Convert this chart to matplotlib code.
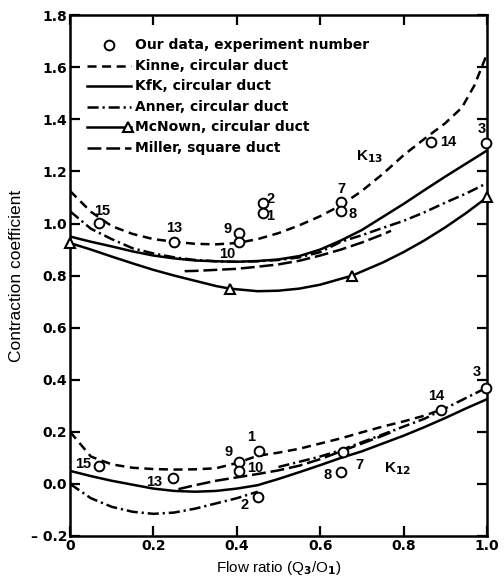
import matplotlib
matplotlib.use("Agg")
import matplotlib.pyplot as plt
import numpy as np

plt.rcParams["font.family"] = ["Liberation Sans", "DejaVu Sans"]
plt.rcParams["font.weight"] = "bold"
plt.rcParams["lines.scale_dashes"] = False

# ---- data ---------------------------------------------------------------
# K13 (upper family)
kinne13_x = [0, 0.05, 0.1, 0.15, 0.2, 0.25, 0.3, 0.35, 0.4, 0.45, 0.5, 0.55,
             0.6, 0.65, 0.7, 0.75, 0.8, 0.85, 0.9, 0.94, 0.97, 1.0]
kinne13_y = [1.125, 1.045, 0.99, 0.96, 0.94, 0.93, 0.922, 0.92, 0.925, 0.94,
             0.963, 0.993, 1.028, 1.07, 1.125, 1.19, 1.262, 1.325, 1.385,
             1.445, 1.53, 1.65]

kfk13_x = [0, 0.05, 0.1, 0.15, 0.2, 0.25, 0.3, 0.35, 0.4, 0.45, 0.5, 0.55,
           0.6, 0.65, 0.7, 0.75, 0.8, 0.85, 0.9, 0.95, 1.0]
kfk13_y = [0.95, 0.93, 0.912, 0.893, 0.877, 0.866, 0.858, 0.855, 0.853,
           0.856, 0.862, 0.875, 0.9, 0.935, 0.975, 1.025, 1.075, 1.128,
           1.18, 1.23, 1.28]

anner13_x = [0, 0.05, 0.1, 0.15, 0.2, 0.25, 0.3, 0.35, 0.4, 0.45, 0.5, 0.55,
             0.6, 0.65, 0.7, 0.75, 0.8, 0.85, 0.9, 0.95, 1.0]
anner13_y = [1.047, 0.98, 0.94, 0.905, 0.885, 0.87, 0.86, 0.855, 0.853,
             0.855, 0.86, 0.87, 0.89, 0.93, 0.955, 0.983, 1.01, 1.043,
             1.08, 1.115, 1.155]

miller13_x = [0.275, 0.3, 0.35, 0.4, 0.45, 0.5, 0.55, 0.6, 0.65, 0.7, 0.75, 0.77]
miller13_y = [0.817, 0.818, 0.822, 0.826, 0.834, 0.843, 0.857, 0.877, 0.9,
              0.927, 0.958, 0.972]

mcnown13_x = [0, 0.05, 0.1, 0.15, 0.2, 0.25, 0.3, 0.35, 0.383, 0.45, 0.5,
              0.55, 0.6, 0.677, 0.75, 0.8, 0.85, 0.9, 0.95, 1.0]
mcnown13_y = [0.925, 0.9, 0.873, 0.847, 0.822, 0.8, 0.78, 0.76, 0.75, 0.74,
              0.742, 0.75, 0.765, 0.8, 0.85, 0.89, 0.935, 0.985, 1.04, 1.10]
mcnown13_pts_x = [0, 0.383, 0.677, 1.0]
mcnown13_pts_y = [0.925, 0.75, 0.80, 1.10]

# K12 (lower family)
kinne12_x = [0, 0.05, 0.1, 0.15, 0.2, 0.25, 0.3, 0.35, 0.4, 0.45, 0.5, 0.55,
             0.6, 0.65, 0.7, 0.75, 0.8, 0.85, 0.89]
kinne12_y = [0.2, 0.105, 0.075, 0.062, 0.057, 0.055, 0.056, 0.06, 0.08,
             0.108, 0.12, 0.135, 0.155, 0.175, 0.198, 0.22, 0.24, 0.262, 0.285]

kfk12_x = [0, 0.05, 0.1, 0.15, 0.2, 0.25, 0.3, 0.35, 0.4, 0.45, 0.5, 0.55,
           0.6, 0.65, 0.7, 0.75, 0.8, 0.85, 0.9, 0.95, 1.0]
kfk12_y = [0.05, 0.03, 0.012, -0.003, -0.018, -0.027, -0.03, -0.027, -0.018,
           -0.005, 0.019, 0.045, 0.072, 0.1, 0.125, 0.155, 0.185, 0.218,
           0.253, 0.29, 0.325]

anner12_x = [0, 0.05, 0.1, 0.15, 0.2, 0.25, 0.3, 0.35, 0.4, 0.45, np.nan,
             0.5, 0.55, 0.6, 0.65, 0.7, 0.75, 0.8, 0.85, 0.9, 0.95, 1.0]
anner12_y = [0.0, -0.055, -0.088, -0.107, -0.115, -0.11, -0.095, -0.075,
             -0.055, -0.03, np.nan, 0.065, 0.085, 0.105, 0.13, 0.16, 0.19,
             0.22, 0.25, 0.29, 0.33, 0.37]

miller12_x = [0.26, 0.3, 0.35, 0.4, 0.45, 0.5, 0.55, 0.6, 0.65, 0.7, 0.75, 0.78]
miller12_y = [-0.02, -0.005, 0.012, 0.025, 0.038, 0.052, 0.07, 0.095, 0.125,
              0.155, 0.185, 0.205]

# our data, experiment numbers
exp13 = ["15", "13", "9", "10", "2", "1", "7", "8", "14", "3"]
ours13_x = [0.07, 0.25, 0.406, 0.406, 0.462, 0.462, 0.65, 0.65, 0.866, 0.998]
ours13_y = [1.003, 0.93, 0.964, 0.928, 1.079, 1.041, 1.082, 1.048, 1.312, 1.309]

exp12 = ["15", "13", "9", "10", "1", "2", "7", "8", "14", "3"]
ours12_x = [0.07, 0.246, 0.406, 0.406, 0.454, 0.45, 0.654, 0.65, 0.89, 0.998]
ours12_y = [0.07, 0.023, 0.085, 0.051, 0.128, -0.051, 0.121, 0.045, 0.285, 0.367]

# label offsets in pixels (layout only)
off13 = [(3, 12), (0, 14), (-12, 4), (-12, -12), (8, 4), (8, -3),
         (0, 13), (12, -3), (17, 0), (-4, 14)]
off12 = [(-16, 2), (-18, -4), (-11, 10), (16, 3), (-8, 14), (-13, -8),
         (17, -13), (-13, -3), (-5, 14), (-9, 16)]

yticks = [-0.2, 0.0, 0.2, 0.4, 0.6, 0.8, 1.0, 1.2, 1.4, 1.6, 1.8]
ytick_labels = ["\u2013 0.2", "0.0", "0.2", "0.4", "0.6", "0.8", "1.0",
                "1.2", "1.4", "1.6", "1.8"]
xticks = [0, 0.2, 0.4, 0.6, 0.8, 1.0]
xtick_labels = ["0", "0.2", "0.4", "0.6", "0.8", "1.0"]

legend_labels = ["Our data, experiment number", "Kinne, circular duct",
                 "KfK, circular duct", "Anner, circular duct",
                 "McNown, circular duct", "Miller, square duct"]

# ---- styles ---------------------------------------------------------------
LW = 1.8
DASH_KINNE = (0, (6.5, 4))
DASH_ANNER = (0, (8, 2.8, 1.6, 2.8))
DASH_MILLER = (0, (10, 3.5))
WIDE = ["DejaVu Sans"]

fig = plt.figure(figsize=(5.04, 5.78), dpi=100)
ax = fig.add_axes([0.139, 0.0727, 0.827, 0.901])

ax.plot(kinne13_x, kinne13_y, color="black", lw=LW, linestyle=DASH_KINNE)
ax.plot(kfk13_x, kfk13_y, color="black", lw=LW)
ax.plot(anner13_x, anner13_y, color="black", lw=LW, linestyle=DASH_ANNER)
ax.plot(miller13_x, miller13_y, color="black", lw=LW, linestyle=DASH_MILLER)
ax.plot(mcnown13_x, mcnown13_y, color="black", lw=LW)
ax.plot(mcnown13_pts_x, mcnown13_pts_y, linestyle="none", marker="^",
        ms=7.5, mfc="white", mec="black", mew=1.5, clip_on=False, zorder=4)

ax.plot(kinne12_x, kinne12_y, color="black", lw=LW, linestyle=DASH_KINNE)
ax.plot(kfk12_x, kfk12_y, color="black", lw=LW)
ax.plot(anner12_x, anner12_y, color="black", lw=LW, linestyle=DASH_ANNER)
ax.plot(miller12_x, miller12_y, color="black", lw=LW, linestyle=DASH_MILLER)

for xs, ys, labs, offs in [(ours13_x, ours13_y, exp13, off13),
                           (ours12_x, ours12_y, exp12, off12)]:
    ax.plot(xs, ys, linestyle="none", marker="o", ms=7, mfc="white",
            mec="black", mew=1.4, clip_on=False, zorder=5)
    for x, y, lab, (dx, dy) in zip(xs, ys, labs, offs):
        ax.annotate(lab, (x, y), xytext=(dx, dy), textcoords="offset pixels",
                    ha="center", va="center", fontsize=10.5)

ax.text(0.718, 1.257, "K$_{\\mathbf{13}}$", fontsize=11, ha="center", va="center")
ax.text(0.786, 0.057, "K$_{\\mathbf{12}}$", fontsize=11, ha="center", va="center")

# hand-drawn legend block (top left)
row0, step = 0.9424, 0.0395
hx0, hx1, tx = 0.0415, 0.147, 0.155
legend_styles = [None, DASH_KINNE, "-", DASH_ANNER, "-", DASH_MILLER]
for i, (lab, ls) in enumerate(zip(legend_labels, legend_styles)):
    yy = row0 - i * step
    if ls is None:
        ax.plot([(hx0 + hx1) / 2], [yy], transform=ax.transAxes, marker="o",
                ms=7, mfc="white", mec="black", mew=1.4, linestyle="none")
    else:
        ax.plot([hx0, hx1], [yy, yy], transform=ax.transAxes, color="black",
                lw=LW, linestyle=ls)
    if i == 4:
        ax.plot([hx1 - 0.008], [yy], transform=ax.transAxes, marker="^", ms=6.5,
                mfc="white", mec="black", mew=1.5, linestyle="none")
    ax.text(tx, yy, lab, transform=ax.transAxes, fontsize=10, va="center",
            ha="left", family=WIDE)

ax.set_xlim(0, 1.0)
ax.set_ylim(-0.2, 1.8)
ax.set_xticks(xticks)
ax.set_xticklabels(xtick_labels, family=WIDE)
ax.set_yticks(yticks)
ax.set_yticklabels(ytick_labels, family=WIDE)
ax.tick_params(direction="in", length=7, width=1.6, top=True, right=True,
               labelsize=10, pad=2)
for s in ax.spines.values():
    s.set_linewidth(1.8)

ax.set_xlabel("Flow ratio (Q$_\\mathbf{3}$/O$_\\mathbf{1}$)", fontsize=11)
ax.xaxis.set_label_coords(0.5, -0.045)
ax.set_ylabel("Contraction coefficient", fontsize=12.5)
ax.yaxis.set_label_coords(-0.11, 0.5)

fig.savefig("out.png", dpi=100)
